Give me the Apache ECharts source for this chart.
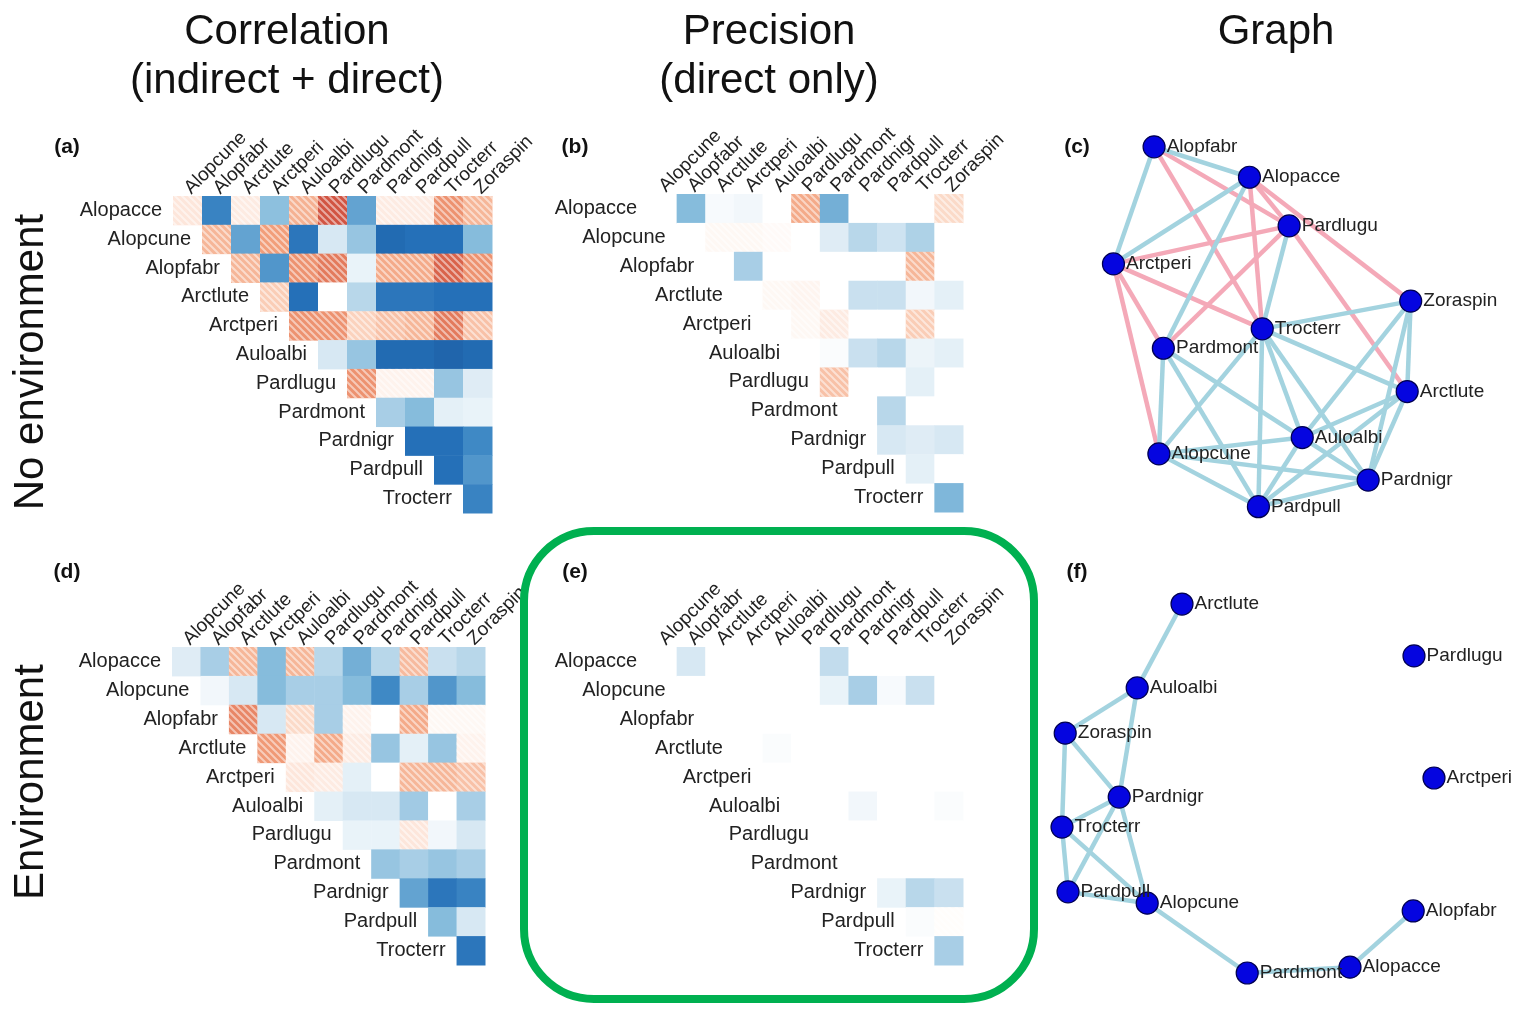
<!DOCTYPE html>
<html>
<head>
<meta charset="utf-8">
<script src="https://cdn.jsdelivr.net/npm/echarts@6/dist/echarts.min.js"></script>
<style>
  html, body { margin: 0; padding: 0; background: #fff; }
  #main { width: 1518px; height: 1009px; }
</style>
</head>
<body>
<div id="main"></div>
<script>
const species = ['Alopacce', 'Alopcune', 'Alopfabr', 'Arctlute', 'Arctperi', 'Auloalbi',
  'Pardlugu', 'Pardmont', 'Pardnigr', 'Pardpull', 'Trocterr', 'Zoraspin'];
const rowNames = species.slice(0, 11);
const colNames = species.slice(1);

// upper triangles: row r holds the columns r..10 (column c = species c+1)
const corrNoEnv = [
  [0.1, -0.65, 0.08, -0.38, 0.32, 0.72, -0.5, 0.08, 0.08, 0.45, 0.3],
  [0.3, -0.5, 0.4, -0.75, -0.15, -0.35, -0.85, -0.8, -0.8, -0.4],
  [0.3, -0.55, 0.45, 0.55, -0.08, 0.35, 0.35, 0.65, 0.45],
  [0.2, -0.8, 0, -0.25, -0.75, -0.75, -0.8, -0.8],
  [0.45, 0.45, 0.18, 0.25, 0.3, 0.55, 0.25],
  [-0.15, -0.35, -0.85, -0.85, -0.9, -0.85],
  [0.45, 0.05, 0.05, -0.35, -0.12],
  [-0.3, -0.4, -0.1, -0.08],
  [-0.8, -0.8, -0.6],
  [-0.8, -0.55],
  [-0.65]
];
const precNoEnv = [
  [0, -0.4, -0.03, -0.05, 0, 0.35, -0.45, 0, 0, 0, 0.15],
  [0, 0.03, 0.03, 0.02, 0, -0.12, -0.25, -0.18, -0.28, 0],
  [0, -0.3, 0, 0, 0, 0, 0, 0.3, 0],
  [0, 0.03, 0.04, 0, -0.2, -0.2, -0.05, -0.1],
  [0, 0.03, 0.08, 0, 0, 0.2, 0],
  [0, -0.02, -0.2, -0.25, -0.07, -0.1],
  [0.25, 0, 0, -0.1, 0],
  [0, -0.25, 0, 0],
  [-0.15, -0.12, -0.15],
  [-0.1, 0],
  [-0.42]
];
const corrEnv = [
  [-0.12, -0.3, 0.3, -0.4, 0.3, -0.25, -0.45, -0.25, 0.28, -0.2, -0.25],
  [-0.05, -0.15, -0.4, -0.3, -0.3, -0.4, -0.6, -0.3, -0.55, -0.4],
  [0.5, -0.15, 0.15, -0.3, 0.05, 0, 0.35, 0.03, 0.03],
  [0.42, 0.05, 0.35, 0.08, -0.35, -0.1, -0.35, 0.05],
  [0.1, 0.08, -0.1, 0, 0.3, 0.3, 0.25],
  [-0.1, -0.15, -0.15, -0.32, 0, -0.3],
  [-0.08, -0.08, 0.1, -0.05, -0.15],
  [-0.35, -0.3, -0.35, -0.3],
  [-0.5, -0.75, -0.65],
  [-0.4, -0.15],
  [-0.75]
];
const precEnv = [
  [0, -0.15, 0, 0, 0, 0, -0.22, 0, 0, 0, 0],
  [0, 0, 0, 0, 0, -0.08, -0.3, -0.03, -0.2, 0],
  [0, 0, 0, 0, 0, 0, 0, 0, 0],
  [0, -0.02, 0, 0, 0, 0, 0, 0],
  [0, 0, 0, 0, 0, 0, 0],
  [0, 0, -0.05, 0, 0, -0.02],
  [0, 0, 0, 0, 0],
  [0, 0, 0, 0],
  [-0.08, -0.25, -0.2],
  [-0.02, 0.01],
  [-0.3]
];

// graph layouts (0..100 units) and edges
const nodesNoEnv = ['Alopfabr', 'Alopacce', 'Pardlugu', 'Arctperi', 'Zoraspin', 'Trocterr',
  'Pardmont', 'Arctlute', 'Auloalbi', 'Alopcune', 'Pardnigr', 'Pardpull'];
const nodesNoEnvX = [16.9, 46.7, 59.1, 4.2, 97.1, 50.7, 19.8, 96.0, 63.2, 18.4, 83.8, 49.5];
const nodesNoEnvY = [1.8, 9.8, 22.6, 32.6, 42.4, 49.7, 54.8, 66.2, 78.3, 82.6, 89.5, 96.5];
const negLinksNoEnv = [
  ['Alopfabr', 'Alopacce'], ['Alopfabr', 'Arctperi'], ['Alopacce', 'Arctperi'], ['Alopacce', 'Pardmont'],
  ['Pardlugu', 'Trocterr'], ['Trocterr', 'Zoraspin'], ['Trocterr', 'Arctlute'], ['Trocterr', 'Pardpull'],
  ['Trocterr', 'Pardnigr'], ['Trocterr', 'Alopcune'], ['Trocterr', 'Auloalbi'], ['Pardmont', 'Alopcune'],
  ['Pardmont', 'Pardpull'], ['Pardmont', 'Pardnigr'], ['Zoraspin', 'Arctlute'], ['Zoraspin', 'Auloalbi'],
  ['Zoraspin', 'Pardnigr'], ['Arctlute', 'Auloalbi'], ['Arctlute', 'Pardpull'], ['Arctlute', 'Pardnigr'],
  ['Auloalbi', 'Alopcune'], ['Auloalbi', 'Pardpull'], ['Alopcune', 'Pardpull'], ['Alopcune', 'Pardnigr'],
  ['Pardpull', 'Pardnigr']
];
const posLinksNoEnv = [
  ['Alopfabr', 'Trocterr'], ['Alopfabr', 'Pardlugu'], ['Alopacce', 'Pardlugu'], ['Alopacce', 'Zoraspin'],
  ['Alopacce', 'Trocterr'], ['Arctperi', 'Pardlugu'], ['Arctperi', 'Trocterr'], ['Arctperi', 'Pardmont'],
  ['Arctperi', 'Alopcune'], ['Pardlugu', 'Pardmont'], ['Pardlugu', 'Arctlute']
];

const nodesEnv = ['Arctlute', 'Pardlugu', 'Auloalbi', 'Zoraspin', 'Arctperi', 'Pardnigr',
  'Trocterr', 'Pardpull', 'Alopcune', 'Alopfabr', 'Pardmont', 'Alopacce'];
const nodesEnvX = [35.5, 93.5, 24.3, 6.3, 98.5, 19.8, 5.5, 7.0, 26.8, 93.3, 51.8, 77.5];
const nodesEnvY = [3.6, 16.9, 25.1, 36.7, 48.2, 53.1, 60.8, 77.4, 80.3, 82.3, 98.2, 96.7];
const negLinksEnv = [
  ['Arctlute', 'Auloalbi'], ['Auloalbi', 'Zoraspin'], ['Auloalbi', 'Pardnigr'], ['Zoraspin', 'Pardnigr'],
  ['Zoraspin', 'Trocterr'], ['Pardnigr', 'Trocterr'], ['Pardnigr', 'Pardpull'], ['Pardnigr', 'Alopcune'],
  ['Trocterr', 'Pardpull'], ['Trocterr', 'Alopcune'], ['Pardpull', 'Alopcune'], ['Alopcune', 'Pardmont'],
  ['Pardmont', 'Alopacce'], ['Alopacce', 'Alopfabr']
];

const FONT = '"Liberation Sans", Arial, Helvetica, sans-serif';
const TEAL = '#a3d3df';
const PINK = '#f4a9b8';

// diverging colour ramp, blue negative / red positive
const stops = [
  [-1, [26, 90, 160]], [-0.8, [37, 112, 184]], [-0.6, [63, 137, 197]], [-0.4, [134, 188, 220]],
  [-0.2, [201, 224, 239]], [0, [255, 255, 255]], [0.2, [250, 205, 182]], [0.4, [242, 158, 122]],
  [0.6, [222, 110, 82]], [0.8, [200, 66, 55]], [1, [178, 34, 42]]
];
function valueColor(v) {
  v = Math.max(-1, Math.min(1, v));
  for (let i = 1; i < stops.length; i++) {
    if (v <= stops[i][0]) {
      const a = stops[i - 1], b = stops[i];
      const t = (v - a[0]) / (b[0] - a[0]);
      const c = a[1].map((x, k) => Math.round(x + (b[1][k] - x) * t));
      return 'rgb(' + c.join(',') + ')';
    }
  }
  return '#fff';
}

// white diagonal hatch for positive cells
const hatch = document.createElement('canvas');
hatch.width = 7; hatch.height = 7;
(function () {
  const ctx = hatch.getContext('2d');
  ctx.strokeStyle = 'rgba(255,255,255,0.5)';
  ctx.lineWidth = 2;
  ctx.beginPath();
  ctx.moveTo(-1, -1); ctx.lineTo(8, 8);
  ctx.moveTo(-1, 6); ctx.lineTo(1, 8);
  ctx.moveTo(6, -1); ctx.lineTo(8, 1);
  ctx.stroke();
})();

function toCells(mat) {
  const out = [];
  mat.forEach((row, r) => row.forEach((v, k) => out.push([r + k, r, v])));
  return out;
}

function cellSeries(idx, mat) {
  return {
    type: 'custom', xAxisIndex: idx, yAxisIndex: idx, silent: true,
    data: toCells(mat),
    renderItem: function (params, api) {
      const c = api.coord([api.value(0), api.value(1)]);
      const s = api.size([1, 1]);
      const v = api.value(2);
      const shape = { x: c[0] - s[0] / 2, y: c[1] - s[1] / 2, width: s[0] + 0.5, height: s[1] + 0.5 };
      const children = [{ type: 'rect', shape: shape, style: { fill: valueColor(v) } }];
      if (v > 0) {
        children.push({ type: 'rect', shape: shape, style: { fill: { image: hatch, repeat: 'repeat' } } });
      }
      return { type: 'group', children: children };
    }
  };
}

function rowLabelSeries(idx) {
  return {
    type: 'custom', xAxisIndex: idx, yAxisIndex: idx, silent: true,
    data: rowNames.map((n, i) => [i, i]),
    renderItem: function (params, api) {
      const c = api.coord([api.value(0), api.value(1)]);
      const s = api.size([1, 1]);
      return {
        type: 'text', x: c[0] - s[0] / 2 - 11, y: c[1],
        style: { text: rowNames[params.dataIndex], align: 'right', verticalAlign: 'middle',
          font: '20px ' + FONT, fill: '#222' }
      };
    }
  };
}

function graphSeries(idx, names, xs, ys, neg, pos) {
  const links = [];
  pos.forEach(l => links.push({ source: l[0], target: l[1], lineStyle: { color: PINK } }));
  neg.forEach(l => links.push({ source: l[0], target: l[1], lineStyle: { color: TEAL } }));
  return {
    type: 'graph', coordinateSystem: 'cartesian2d', xAxisIndex: idx, yAxisIndex: idx,
    silent: true, symbolSize: 22,
    itemStyle: { color: '#0505e0', borderColor: '#000050', borderWidth: 1.2 },
    label: { show: true, position: 'right', distance: 1, fontSize: 19, fontFamily: FONT, color: '#222',
      formatter: '{b}' },
    lineStyle: { width: 4.5, opacity: 1 },
    data: names.map((n, i) => ({ name: n, value: [xs[i], ys[i]] })),
    links: links
  };
}

const heatGrids = [
  { left: 173, top: 196, width: 319, height: 317 },
  { left: 648, top: 194, width: 315, height: 318 },
  { left: 172, top: 647, width: 313, height: 318 },
  { left: 648, top: 647, width: 315, height: 318 }
];
const graphGrids = [
  { left: 1100, top: 140, width: 320, height: 380 },
  { left: 1040, top: 590, width: 400, height: 390 }
];

const xAxes = [], yAxes = [];
heatGrids.forEach((g, i) => {
  xAxes.push({
    type: 'category', gridIndex: i, data: colNames, position: 'top',
    axisLine: { show: false }, axisTick: { show: false }, splitLine: { show: false },
    axisLabel: { rotate: -45, interval: 0, margin: 5, fontSize: 19, fontFamily: FONT, color: '#222' }
  });
  yAxes.push({ type: 'category', gridIndex: i, data: rowNames, inverse: true, show: false });
});
graphGrids.forEach((g, i) => {
  xAxes.push({ type: 'value', gridIndex: 4 + i, min: 0, max: 100, show: false });
  yAxes.push({ type: 'value', gridIndex: 4 + i, min: 0, max: 100, inverse: true, show: false });
});

function txt(x, y, s, size, weight, extra) {
  return Object.assign({
    type: 'text', x: x, y: y,
    style: { text: s, font: (weight || 'normal') + ' ' + size + 'px ' + FONT, fill: '#111',
      align: 'center', verticalAlign: 'middle' }
  }, extra || {});
}

const chart = echarts.init(document.getElementById('main'), null, { renderer: 'canvas' });
chart.setOption({
  animation: false,
  backgroundColor: '#fff',
  grid: heatGrids.concat(graphGrids).map(g => Object.assign({ containLabel: false }, g)),
  xAxis: xAxes,
  yAxis: yAxes,
  graphic: [
    txt(287, 32, 'Correlation', 42),
    txt(287, 81, '(indirect + direct)', 42),
    txt(769, 32, 'Precision', 42),
    txt(769, 81, '(direct only)', 42),
    txt(1276, 32, 'Graph', 42),
    txt(31, 362, 'No environment', 42, 'normal', { rotation: Math.PI / 2 }),
    txt(31, 782, 'Environment', 42, 'normal', { rotation: Math.PI / 2 }),
    txt(67, 147, '(a)', 21, 'bold'),
    txt(575, 147, '(b)', 21, 'bold'),
    txt(1077, 147, '(c)', 21, 'bold'),
    txt(67, 572, '(d)', 21, 'bold'),
    txt(575, 572, '(e)', 21, 'bold'),
    txt(1077, 572, '(f)', 21, 'bold'),
    {
      type: 'rect', shape: { x: 524, y: 531, width: 510, height: 468, r: 70 },
      style: { fill: 'none', stroke: '#00b050', lineWidth: 8 }, z: 100
    }
  ],
  series: [
    cellSeries(0, corrNoEnv), rowLabelSeries(0),
    cellSeries(1, precNoEnv), rowLabelSeries(1),
    cellSeries(2, corrEnv), rowLabelSeries(2),
    cellSeries(3, precEnv), rowLabelSeries(3),
    graphSeries(4, nodesNoEnv, nodesNoEnvX, nodesNoEnvY, negLinksNoEnv, posLinksNoEnv),
    graphSeries(5, nodesEnv, nodesEnvX, nodesEnvY, negLinksEnv, [])
  ]
});
</script>
</body>
</html>
